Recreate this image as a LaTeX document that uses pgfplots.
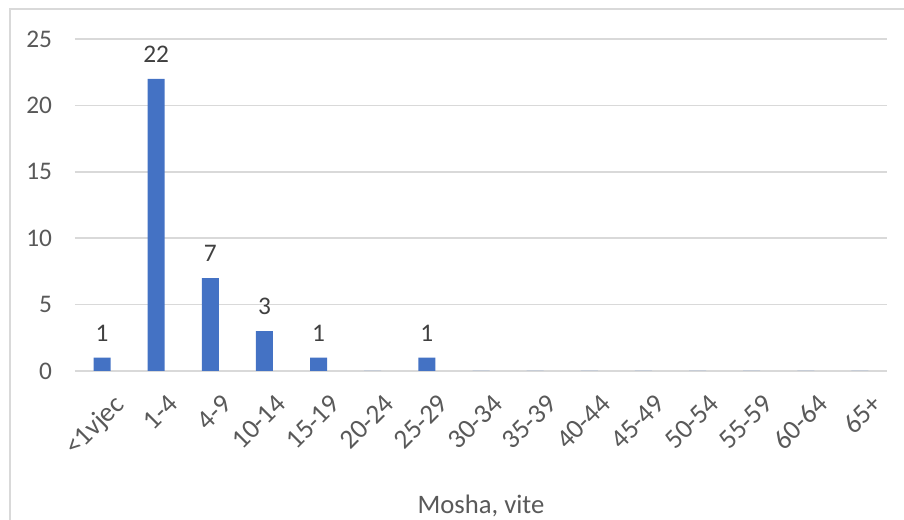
\documentclass[border=0pt]{standalone}
\usepackage{pgfplots}
\pgfplotsset{compat=1.18}
\usepackage{fontspec}
\setmainfont{Carlito}
\definecolor{barblue}{HTML}{4472C4}
\definecolor{gridgray}{HTML}{D9D9D9}
\definecolor{txtgray}{HTML}{595959}
\definecolor{lblgray}{HTML}{404040}
\begin{document}
\begin{tikzpicture}[x=0.75pt,y=0.75pt]
\path[use as bounding box] (-75,-149) rectangle (829,371);
\draw[gridgray, line width=1.5pt] (-64.5,-149) -- (-64.5,361.5) -- (829,361.5);
\begin{axis}[
  at={(0,0)}, anchor=south west,
  scale only axis, width=609pt, height=249pt,
  ymin=0, ymax=25, ytick={0,5,...,25},
  xmin=-0.5, xmax=14.5, xtick={0,...,14},
  xticklabels={<1vjec,1-4,4-9,10-14,15-19,20-24,25-29,30-34,35-39,40-44,45-49,50-54,55-59,60-64,65+},
  /pgf/number format/assume math mode=true,
  axis line style={draw=none},
  tick style={draw=none},
  ymajorgrids,
  major grid style={gridgray, line width=1.1pt},
  ticklabel style={font=\fontsize{19}{22}\selectfont, text=txtgray},
  xticklabel style={rotate=45, anchor=north east, inner sep=0pt, yshift=-14pt, xshift=-3pt,
    font=\fontsize{20.5}{24}\selectfont},
  yticklabel style={anchor=east, inner sep=0pt, xshift=-17pt},
  xlabel={Mosha, vite},
  xlabel style={at={(rel axis cs:0.5,0)}, anchor=north, inner sep=0pt, yshift=-93pt,
    font=\fontsize{20}{24}\selectfont, text=txtgray},
  clip=false,
  ybar, bar width=12.75pt,
  nodes near coords={\pgfmathfloatifflags{\pgfplotspointmeta}{0}{}{\pgfmathprintnumber{\pgfplotspointmeta}}},
  nodes near coords style={font=\fontsize{19}{22}\selectfont, text=lblgray, inner sep=0pt, anchor=south, yshift=12pt},
]
\addplot[fill=barblue, draw=none] coordinates {
(0,1) (1,22) (2,7) (3,3) (4,1) (5,0) (6,1) (7,0) (8,0) (9,0) (10,0) (11,0) (12,0) (13,0) (14,0)
};
\end{axis}
\end{tikzpicture}
\end{document}
